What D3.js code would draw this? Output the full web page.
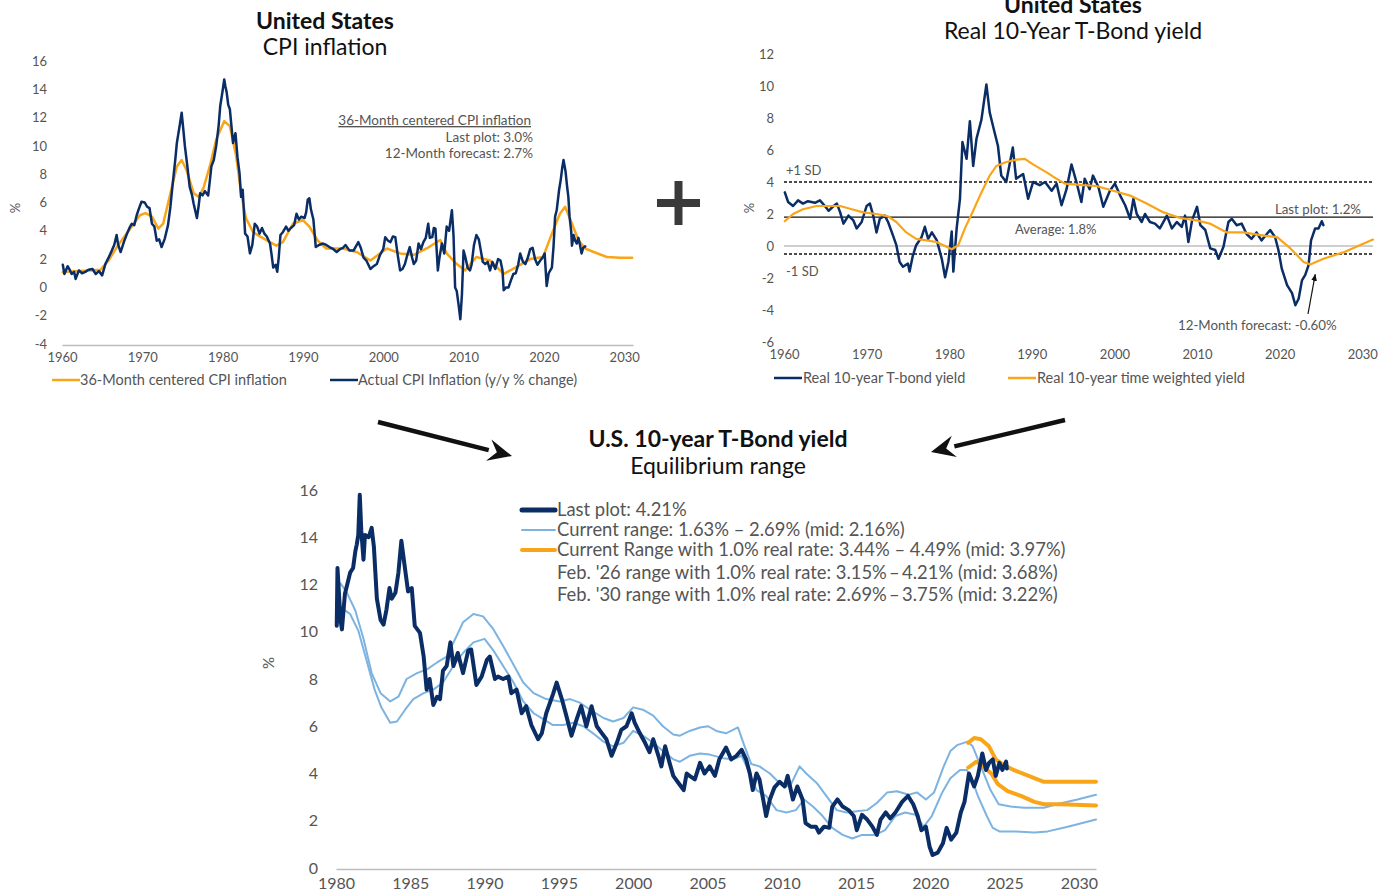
<!DOCTYPE html>
<html>
<head>
<meta charset="utf-8">
<script src="https://cdn.jsdelivr.net/npm/d3@7"></script>
<style>
  body { margin: 0; background: #fff; }
  svg { display: block; font-family: Lato, "Noto Sans", sans-serif; }
</style>
</head>
<body>
<script>
// ---- data (year, value) ----
var cpiActual = [[1960.1,1.6],[1960.3,0.95],[1960.7,1.5],[1961.0,1.2],[1961.2,0.95],[1961.5,1.1],[1961.7,0.6],[1962.1,1.2],[1962.5,1.0],[1962.9,1.1],[1963.3,1.25],[1963.8,1.3],[1964.2,0.95],[1964.6,1.15],[1965.0,0.85],[1965.4,1.65],[1965.8,2.1],[1966.2,2.6],[1966.5,3.0],[1966.8,3.7],[1967.0,3.0],[1967.3,2.5],[1967.7,3.2],[1968.1,3.8],[1968.4,4.2],[1968.7,4.5],[1969.0,4.4],[1969.3,5.1],[1969.6,5.6],[1969.9,6.05],[1970.3,6.0],[1970.6,5.7],[1970.9,5.6],[1971.2,4.5],[1971.5,4.3],[1971.8,3.3],[1972.1,3.4],[1972.4,2.85],[1972.8,3.45],[1973.2,4.4],[1973.5,5.7],[1973.8,7.4],[1974.1,9.0],[1974.3,10.2],[1974.5,10.9],[1974.7,11.6],[1974.9,12.35],[1975.1,11.2],[1975.3,10.0],[1975.6,8.6],[1975.9,7.1],[1976.2,6.5],[1976.4,5.9],[1976.6,5.4],[1976.8,4.9],[1977.0,5.7],[1977.2,6.65],[1977.5,6.5],[1977.8,6.8],[1978.2,6.5],[1978.4,7.5],[1978.6,8.55],[1978.9,9.0],[1979.2,10.0],[1979.5,11.4],[1979.7,12.8],[1980.0,13.9],[1980.2,14.7],[1980.35,14.2],[1980.5,13.8],[1980.7,12.9],[1980.9,12.6],[1981.1,11.4],[1981.3,10.2],[1981.6,10.9],[1981.85,9.2],[1982.1,8.1],[1982.3,6.4],[1982.5,6.9],[1982.8,3.8],[1983.1,3.6],[1983.4,2.4],[1983.7,3.0],[1984.0,4.5],[1984.3,4.3],[1984.6,3.8],[1984.9,4.2],[1985.2,3.8],[1985.5,3.6],[1985.9,3.1],[1986.1,2.3],[1986.3,1.4],[1986.6,1.6],[1986.8,1.1],[1987.0,2.2],[1987.2,3.7],[1987.5,3.9],[1987.9,4.3],[1988.2,4.0],[1988.5,4.2],[1988.9,4.4],[1989.2,5.2],[1989.5,4.8],[1989.8,5.0],[1990.2,4.9],[1990.4,5.3],[1990.6,6.2],[1990.8,6.3],[1991.0,5.5],[1991.3,4.8],[1991.6,2.85],[1992.0,3.0],[1992.5,3.1],[1992.9,3.0],[1993.3,2.85],[1993.8,2.7],[1994.2,2.5],[1994.6,2.7],[1995.0,2.8],[1995.3,3.0],[1995.8,2.6],[1996.3,2.6],[1996.6,2.9],[1996.9,3.2],[1997.2,2.8],[1997.55,2.1],[1997.9,1.9],[1998.4,1.3],[1998.8,1.5],[1999.2,1.65],[1999.6,2.3],[2000.0,2.7],[2000.25,3.55],[2000.6,3.3],[2000.9,3.2],[2001.2,3.6],[2001.5,3.55],[2001.8,2.3],[2002.1,1.2],[2002.4,1.3],[2002.7,1.65],[2003.0,2.3],[2003.3,2.85],[2003.6,2.1],[2003.8,1.65],[2004.1,1.9],[2004.4,3.1],[2004.7,2.7],[2005.0,3.2],[2005.3,3.5],[2005.6,4.5],[2005.8,3.5],[2006.1,3.55],[2006.3,4.2],[2006.5,4.15],[2006.8,1.2],[2007.0,2.1],[2007.3,3.1],[2007.6,2.4],[2007.9,4.3],[2008.2,4.0],[2008.55,5.45],[2008.75,3.7],[2008.95,0.0],[2009.15,-0.25],[2009.4,-1.3],[2009.6,-2.25],[2009.8,-0.5],[2010.0,2.6],[2010.2,2.2],[2010.5,1.4],[2010.8,1.2],[2011.0,1.6],[2011.3,3.0],[2011.6,3.7],[2011.9,3.4],[2012.15,2.6],[2012.4,1.8],[2012.7,1.65],[2013.0,1.8],[2013.3,1.2],[2013.6,1.8],[2013.95,1.3],[2014.3,2.0],[2014.6,1.9],[2014.85,1.2],[2015.0,-0.2],[2015.3,0.0],[2015.6,0.0],[2015.9,0.5],[2016.2,0.95],[2016.5,1.0],[2016.8,1.6],[2017.05,2.4],[2017.4,1.8],[2017.7,1.65],[2018.0,2.1],[2018.3,2.7],[2018.6,2.8],[2018.9,2.0],[2019.2,1.6],[2019.55,1.9],[2019.9,2.15],[2020.1,2.4],[2020.35,0.1],[2020.6,1.0],[2020.8,1.2],[2021.0,1.4],[2021.2,2.85],[2021.4,5.0],[2021.6,5.45],[2021.9,6.9],[2022.1,7.6],[2022.3,8.5],[2022.45,9.0],[2022.7,8.2],[2022.9,7.1],[2023.05,6.4],[2023.2,5.0],[2023.4,4.0],[2023.5,2.95],[2023.7,3.7],[2023.9,3.3],[2024.1,3.1],[2024.3,3.5],[2024.5,3.0],[2024.7,2.4],[2024.9,2.8],[2025.15,2.9]];
var cpiCentered = [[1960.1,1.07],[1961.5,1.15],[1963.5,1.2],[1964.8,1.25],[1965.8,1.9],[1967.0,3.0],[1968.3,4.0],[1969.7,5.1],[1970.4,5.25],[1971.2,5.0],[1972.0,4.15],[1972.6,4.5],[1973.5,6.65],[1974.3,8.55],[1974.9,9.0],[1975.5,8.3],[1976.4,6.65],[1977.0,6.4],[1977.6,7.0],[1978.4,8.55],[1979.2,10.45],[1980.2,11.75],[1980.9,11.4],[1981.7,9.25],[1982.3,6.65],[1982.9,4.9],[1983.8,3.9],[1984.8,3.55],[1985.9,3.2],[1986.7,2.95],[1987.5,3.2],[1988.75,4.5],[1990.0,4.75],[1990.8,4.3],[1991.85,3.3],[1992.9,2.75],[1995.0,2.75],[1996.7,2.5],[1998.4,1.9],[2000.45,2.75],[2002.1,2.4],[2003.8,2.3],[2005.4,2.75],[2007.1,3.35],[2007.9,2.4],[2009.15,1.65],[2010.2,1.2],[2011.6,2.15],[2013.3,1.9],[2015.0,0.95],[2016.6,1.45],[2018.3,2.0],[2019.9,2.15],[2021.0,3.8],[2022.0,5.2],[2022.65,5.7],[2023.5,4.5],[2024.3,3.35],[2025.15,2.75],[2026.2,2.5],[2027.85,2.15],[2029.5,2.1],[2031.0,2.1]];
var cpiXTicks = [1960, 1970, 1980, 1990, 2000, 2010, 2020, 2030];
var cpiYTicks = [-4, -2, 0, 2, 4, 6, 8, 10, 12, 14, 16];

var realYield = [[1960.1,3.35],[1960.5,2.75],[1961.1,2.5],[1961.7,2.85],[1962.3,2.65],[1962.9,2.8],[1963.75,2.7],[1964.35,2.85],[1964.95,2.5],[1965.4,2.2],[1966.0,2.5],[1966.4,2.65],[1966.8,2.1],[1967.2,1.4],[1967.8,1.9],[1968.4,1.6],[1968.8,1.1],[1969.4,1.5],[1970.0,2.5],[1970.4,2.65],[1970.8,1.9],[1971.2,0.85],[1971.6,1.7],[1972.2,1.9],[1972.6,1.5],[1973.2,0.65],[1973.6,0.05],[1974.0,-1.0],[1974.4,-1.3],[1975.0,-1.1],[1975.2,-1.6],[1975.6,-0.6],[1976.0,0.05],[1976.65,0.55],[1977.05,1.2],[1977.45,0.45],[1977.9,0.85],[1978.5,0.35],[1979.1,-0.8],[1979.5,-1.95],[1979.9,-1.0],[1980.3,0.9],[1980.5,-1.6],[1980.9,1.1],[1981.3,2.95],[1981.6,6.5],[1982.1,5.45],[1982.5,7.8],[1982.9,5.0],[1983.3,6.7],[1983.9,7.9],[1984.5,10.1],[1984.9,8.35],[1985.3,7.5],[1985.9,6.25],[1986.3,4.4],[1986.9,4.0],[1987.7,6.15],[1988.1,4.2],[1988.95,4.5],[1989.55,2.95],[1990.15,4.0],[1990.95,3.8],[1991.6,4.0],[1992.4,3.45],[1993.0,3.9],[1993.6,2.55],[1994.2,3.55],[1994.8,5.1],[1995.4,4.0],[1996.0,2.75],[1996.4,4.2],[1997.0,3.55],[1997.4,4.4],[1998.05,3.7],[1998.65,2.45],[1999.45,3.45],[2000.05,3.9],[2000.7,3.15],[2001.3,2.55],[2001.9,1.7],[2002.3,2.95],[2002.7,2.0],[2003.3,1.5],[2003.7,2.0],[2004.3,1.5],[2004.9,1.4],[2005.5,1.1],[2006.35,1.9],[2006.95,1.1],[2007.55,1.5],[2008.15,1.2],[2008.55,1.9],[2008.95,0.25],[2009.4,1.6],[2010.0,2.45],[2010.4,1.3],[2011.0,1.0],[2011.6,-0.15],[2012.2,-0.25],[2012.6,-0.8],[2013.2,-0.05],[2013.8,1.5],[2014.2,1.7],[2014.8,1.3],[2015.4,1.4],[2016.0,0.75],[2016.6,0.45],[2017.2,0.85],[2017.8,0.35],[2018.45,0.75],[2018.85,1.0],[2019.45,0.55],[2019.85,-0.25],[2020.25,-1.4],[2020.9,-2.45],[2021.5,-2.95],[2021.9,-3.7],[2022.3,-3.3],[2022.7,-2.15],[2023.1,-1.8],[2023.5,-1.2],[2023.8,0.35],[2024.3,1.1],[2024.7,1.1],[2025.1,1.55],[2025.3,1.3]];
var realWeighted = [[1960.1,1.55],[1961.1,2.0],[1962.3,2.3],[1963.95,2.5],[1966.8,2.5],[1968.2,2.3],[1969.6,2.1],[1971.2,2.0],[1972.6,1.85],[1973.6,1.5],[1974.8,0.85],[1976.0,0.45],[1977.25,0.35],[1978.45,0.25],[1979.5,0.0],[1980.3,-0.2],[1981.1,0.05],[1981.9,1.1],[1982.9,2.2],[1983.9,3.35],[1984.9,4.4],[1985.7,5.0],[1986.9,5.25],[1988.15,5.4],[1989.15,5.45],[1990.15,5.1],[1991.8,4.6],[1993.0,4.2],[1994.0,3.9],[1996.2,3.8],[1997.8,3.75],[1999.85,3.45],[2001.9,3.15],[2003.9,2.65],[2005.95,2.1],[2007.95,1.75],[2009.95,1.6],[2011.55,1.4],[2013.6,0.85],[2015.6,0.85],[2018.1,0.65],[2019.7,0.55],[2021.3,-0.15],[2022.9,-1.0],[2023.7,-1.15],[2025.3,-0.8],[2027.7,-0.4],[2031.3,0.4]];
var realXTicks = [1960, 1970, 1980, 1990, 2000, 2010, 2020, 2030];
var realYTicks = [-6, -4, -2, 0, 2, 4, 6, 8, 10, 12];
var realAverage = 1.8, realPlusSD = 4.0, realMinusSD = -0.5, realForecast = [2023.7, -1.15];

var tbondYield = [[1980.05,10.25],[1980.1,12.7],[1980.3,10.5],[1980.4,10.1],[1980.6,11.6],[1980.95,12.5],[1981.15,12.7],[1981.3,13.4],[1981.4,13.7],[1981.5,14.1],[1981.6,15.8],[1981.7,14.3],[1981.85,13.05],[1981.95,14.1],[1982.2,14.0],[1982.4,14.4],[1982.55,13.6],[1982.75,11.4],[1983.0,10.5],[1983.2,10.3],[1983.4,10.95],[1983.6,11.85],[1983.75,11.4],[1984.0,11.65],[1984.2,12.5],[1984.4,13.85],[1984.65,12.65],[1984.85,11.7],[1985.1,11.85],[1985.3,10.25],[1985.65,9.95],[1985.9,8.95],[1986.1,7.55],[1986.3,8.0],[1986.55,6.9],[1986.8,7.25],[1987.0,7.15],[1987.2,8.35],[1987.45,8.55],[1987.7,9.55],[1987.9,8.55],[1988.2,9.1],[1988.55,8.25],[1988.9,9.2],[1989.1,9.25],[1989.45,7.75],[1989.8,8.1],[1990.15,8.8],[1990.35,8.95],[1990.7,8.0],[1990.9,8.1],[1991.25,8.0],[1991.6,8.1],[1991.8,7.4],[1992.15,7.55],[1992.5,6.55],[1992.8,6.85],[1993.15,6.05],[1993.6,5.45],[1993.85,5.7],[1994.15,6.55],[1994.6,7.35],[1994.85,7.85],[1995.2,7.15],[1995.5,6.45],[1995.85,5.6],[1996.2,6.3],[1996.5,6.85],[1996.85,6.0],[1997.2,6.85],[1997.55,6.0],[1997.9,5.7],[1998.2,5.45],[1998.55,4.75],[1998.9,5.3],[1999.2,5.85],[1999.55,6.0],[1999.9,6.55],[2000.1,6.15],[2000.45,5.7],[2000.8,5.3],[2001.1,4.9],[2001.35,5.45],[2001.7,4.75],[2001.9,4.3],[2002.15,5.15],[2002.45,4.45],[2002.7,3.9],[2003.05,3.6],[2003.4,3.3],[2003.6,4.0],[2003.8,3.9],[2004.15,3.75],[2004.5,4.45],[2004.8,4.0],[2005.15,4.3],[2005.5,3.9],[2005.8,4.6],[2006.25,5.1],[2006.6,4.6],[2006.95,4.75],[2007.3,5.0],[2007.6,4.6],[2007.85,4.0],[2008.05,3.3],[2008.3,4.0],[2008.5,3.75],[2008.75,2.9],[2008.95,2.2],[2009.2,2.9],[2009.5,3.4],[2009.85,3.65],[2010.2,3.45],[2010.4,3.9],[2010.75,2.9],[2011.05,3.45],[2011.4,2.9],[2011.6,1.9],[2011.95,1.75],[2012.3,1.75],[2012.5,1.5],[2012.85,1.75],[2013.2,1.7],[2013.4,2.6],[2013.75,2.9],[2014.1,2.6],[2014.5,2.45],[2014.85,2.2],[2015.05,1.6],[2015.4,2.25],[2015.75,2.05],[2016.1,1.75],[2016.4,1.4],[2016.65,2.05],[2017.0,2.35],[2017.3,2.1],[2017.65,2.35],[2018.1,2.8],[2018.5,3.05],[2018.85,2.7],[2019.15,2.2],[2019.4,1.6],[2019.7,1.75],[2019.95,0.9],[2020.15,0.55],[2020.5,0.65],[2020.85,1.05],[2021.1,1.7],[2021.4,1.2],[2021.75,1.5],[2022.05,2.35],[2022.3,2.8],[2022.6,4.0],[2022.95,3.45],[2023.2,3.9],[2023.5,4.85],[2023.75,4.15],[2023.95,4.45],[2024.2,4.6],[2024.4,3.9],[2024.65,4.45],[2024.85,4.15],[2025.1,4.5],[2025.15,4.21]];
var rangeUpper = [[1980.05,11.8],[1980.3,12.05],[1980.7,11.7],[1981.3,10.9],[1981.85,9.7],[1982.4,8.25],[1983.0,7.4],[1983.65,7.05],[1984.2,7.25],[1984.75,8.0],[1985.45,8.25],[1986.1,8.4],[1986.8,8.7],[1987.45,8.95],[1988.1,9.8],[1988.55,10.4],[1989.25,10.75],[1989.9,10.65],[1990.6,10.1],[1991.25,9.4],[1991.95,8.6],[1992.6,7.85],[1993.3,7.4],[1994.15,7.15],[1995.05,7.05],[1995.75,7.15],[1996.4,7.0],[1997.1,6.7],[1998.0,6.35],[1998.65,6.2],[1999.35,6.35],[2000.0,6.8],[2000.65,6.7],[2001.35,6.45],[2002.0,6.0],[2002.7,5.65],[2003.15,5.6],[2003.8,5.8],[2004.5,5.95],[2005.05,6.0],[2005.6,5.8],[2006.25,5.7],[2007.05,5.95],[2007.5,5.15],[2007.95,4.4],[2008.5,4.3],[2009.2,4.0],[2009.85,3.6],[2010.55,3.45],[2011.2,4.3],[2011.65,4.0],[2012.35,3.6],[2013.0,3.05],[2013.7,2.45],[2014.35,2.35],[2015.05,2.4],[2015.75,2.45],[2016.4,2.75],[2017.1,3.2],[2017.75,3.25],[2018.55,3.1],[2019.1,3.2],[2019.7,2.9],[2020.25,3.2],[2020.9,4.3],[2021.35,4.95],[2021.8,5.2],[2022.5,5.35],[2022.85,5.15],[2023.4,4.3],[2024.05,3.3],[2024.6,2.7],[2025.4,2.6],[2026.3,2.55],[2027.65,2.55],[2028.5,2.7],[2029.9,2.9],[2031.15,3.1]];
var rangeLower = [[1980.05,10.8],[1980.4,11.0],[1980.95,10.75],[1981.5,10.05],[1982.05,8.8],[1982.6,7.55],[1983.05,6.8],[1983.65,6.15],[1984.1,6.2],[1984.65,6.7],[1985.2,7.15],[1985.9,7.4],[1986.55,7.55],[1987.2,7.85],[1987.9,8.55],[1988.55,9.1],[1989.25,9.55],[1990.0,9.7],[1990.6,9.2],[1991.25,8.55],[1991.95,7.85],[1992.6,7.05],[1993.3,6.55],[1993.95,6.3],[1994.6,6.05],[1995.3,6.05],[1995.95,6.15],[1996.65,6.0],[1997.3,5.7],[1998.0,5.35],[1998.65,5.15],[1999.35,5.3],[2000.0,5.8],[2000.65,5.6],[2001.35,5.3],[2002.0,4.95],[2002.7,4.6],[2003.15,4.5],[2003.8,4.75],[2004.5,4.85],[2005.15,4.8],[2006.05,4.65],[2006.7,4.6],[2007.3,4.75],[2007.85,4.0],[2008.3,3.3],[2008.95,3.05],[2009.65,2.45],[2010.3,2.35],[2010.95,2.45],[2011.5,2.9],[2012.1,2.6],[2012.75,2.2],[2013.4,1.7],[2014.1,1.4],[2014.75,1.25],[2015.4,1.4],[2016.3,1.4],[2016.95,1.6],[2017.65,2.2],[2018.3,2.35],[2019.0,2.25],[2019.55,1.75],[2020.1,2.2],[2020.8,3.2],[2021.35,3.8],[2022.0,4.15],[2022.45,4.15],[2022.8,3.75],[2023.2,3.05],[2023.8,2.2],[2024.2,1.7],[2024.65,1.55],[2025.65,1.55],[2027.0,1.5],[2027.9,1.55],[2029.25,1.75],[2031.15,2.05]];
var realRateUpper = [[2022.55,5.3],[2022.95,5.5],[2023.4,5.45],[2023.95,5.15],[2024.4,4.6],[2024.85,4.4],[2025.6,4.15],[2027.0,3.8],[2027.65,3.65],[2028.8,3.65],[2031.15,3.65]];
var realRateLower = [[2022.55,4.25],[2023.1,4.5],[2023.55,4.3],[2024.1,4.0],[2024.55,3.55],[2025.2,3.25],[2026.1,3.05],[2027.0,2.8],[2027.65,2.7],[2028.8,2.7],[2031.15,2.65]];
var tbondXTicks = [1980, 1985, 1990, 1995, 2000, 2005, 2010, 2015, 2020, 2025, 2030];
var tbondYTicks = [0, 2, 4, 6, 8, 10, 12, 14, 16];
var tbondLegend = [
  "Last plot: 4.21%",
  "Current range: 1.63% \u2013 2.69% (mid: 2.16%)",
  "Current Range with 1.0% real rate: 3.44% \u2013 4.49% (mid: 3.97%)",
  "Feb. '26 range with 1.0% real rate: 3.15%\u2009\u2013\u20094.21% (mid: 3.68%)",
  "Feb. '30 range with 1.0% real rate: 2.69%\u2009\u2013\u20093.75% (mid: 3.22%)"
];

var navy = "#0b2d66", orange = "#f9a51a", lightBlue = "#7db3e1", grey = "#555";

var svg = d3.select("body").append("svg").attr("width", 1380).attr("height", 892);

function drawLine(g, data, x, y, color, width) {
  var line = d3.line().x(function(d) { return x(d[0]); }).y(function(d) { return y(d[1]); });
  g.append("path").datum(data).attr("d", line)
    .attr("fill", "none").attr("stroke", color).attr("stroke-width", width)
    .attr("stroke-linejoin", "round").attr("stroke-linecap", "round");
}

// plain hyphen for negatives, as in the reference
function plain(d) { return String(d); }

function yAxis(x0, y, ticks, size) {
  var g = svg.append("g").attr("transform", "translate(" + x0 + ",0)")
    .call(d3.axisLeft(y).tickValues(ticks).tickFormat(plain).tickSize(0).tickPadding(0));
  g.select(".domain").remove();
  g.selectAll("text").attr("fill", grey).style("font-size", size + "px").style("font-family", "Lato");
}

function xAxis(y0, x, ticks, size, pad, showLine) {
  var g = svg.append("g").attr("transform", "translate(0," + y0 + ")")
    .call(d3.axisBottom(x).tickValues(ticks).tickFormat(plain).tickSize(0).tickPadding(pad));
  if (showLine) g.select(".domain").attr("stroke", "#bdbdbd").attr("stroke-width", 1.5);
  else g.select(".domain").remove();
  g.selectAll("text").attr("fill", grey).style("font-size", size + "px").style("font-family", "Lato");
}

function label(x, y, txt, opts) {
  opts = opts || {};
  return svg.append("text").attr("x", x).attr("y", y).text(txt)
    .attr("text-anchor", opts.anchor || "start")
    .attr("fill", opts.color || grey)
    .style("font-size", (opts.size || 13) + "px")
    .style("font-weight", opts.bold ? "bold" : "normal");
}

// ---------- chart 1: CPI inflation ----------
var x1 = d3.scaleLinear().domain([1960, 2031.1]).range([62, 633]);
var y1 = d3.scaleLinear().domain([-4, 16]).range([344, 61]);

label(325, 29, "United States", {anchor: "middle", size: 23, bold: true, color: "#111"});
label(325, 55, "CPI inflation", {anchor: "middle", size: 23, color: "#111"});
yAxis(47, y1, cpiYTicks, 13);
xAxis(345, x1, cpiXTicks, 13, 8, true);
label(20, 208, "%", {anchor: "middle", size: 13}).attr("transform", "rotate(-90,20,208)");

var g1 = svg.append("g");
drawLine(g1, cpiCentered, x1, y1, orange, 2.5);
drawLine(g1, cpiActual, x1, y1, navy, 2.5);

label(531, 125, "36-Month centered CPI inflation", {anchor: "end", size: 13.5}).style("text-decoration", "underline");
label(533, 142, "Last plot: 3.0%", {anchor: "end", size: 13.5});
label(533, 158, "12-Month forecast: 2.7%", {anchor: "end", size: 13.5});

svg.append("line").attr("x1", 52).attr("x2", 80).attr("y1", 380).attr("y2", 380).attr("stroke", orange).attr("stroke-width", 2.5);
label(80, 385, "36-Month centered CPI inflation", {size: 14.5});
svg.append("line").attr("x1", 330).attr("x2", 358).attr("y1", 380).attr("y2", 380).attr("stroke", navy).attr("stroke-width", 2.5);
label(358, 385, "Actual CPI Inflation (y/y % change)", {size: 14.5});

// ---------- big plus ----------
svg.append("path").attr("d", "M657,203H700M678.5,181V225").attr("stroke", "#3a3a3a").attr("stroke-width", 8).attr("fill", "none");

// ---------- chart 2: real 10-year yield ----------
var x2 = d3.scaleLinear().domain([1960, 2031.3]).range([784, 1373]);
var y2 = d3.scaleLinear().domain([-6, 12]).range([342, 54]);

label(1073, 13, "United States", {anchor: "middle", size: 23, bold: true, color: "#111"});
label(1073, 39, "Real 10-Year T-Bond yield", {anchor: "middle", size: 23, color: "#111"});
yAxis(774, y2, realYTicks, 13);
xAxis(342, x2, realXTicks, 13, 8, false);
label(754, 208, "%", {anchor: "middle", size: 13}).attr("transform", "rotate(-90,754,208)");

var g2 = svg.append("g");
g2.append("line").attr("x1", x2(1960)).attr("x2", x2(2031.3)).attr("y1", y2(0)).attr("y2", y2(0)).attr("stroke", "#cfcfcf").attr("stroke-width", 2);
[realPlusSD, realMinusSD].forEach(function(v) {
  g2.append("line").attr("x1", x2(1960)).attr("x2", x2(2031.3)).attr("y1", y2(v)).attr("y2", y2(v))
    .attr("stroke", "#111").attr("stroke-width", 1.3).attr("stroke-dasharray", "3,2");
});
g2.append("line").attr("x1", x2(1960)).attr("x2", x2(2031.3)).attr("y1", y2(realAverage)).attr("y2", y2(realAverage)).attr("stroke", "#111").attr("stroke-width", 1.3);
drawLine(g2, realYield, x2, y2, navy, 2.5);
drawLine(g2, realWeighted, x2, y2, orange, 2.2);

label(786, 175, "+1 SD", {size: 13});
label(786, 276, "-1 SD", {size: 13});
label(1015, 234, "Average: 1.8%", {size: 13});
label(1361, 214, "Last plot: 1.2%", {anchor: "end", size: 13.3});
label(1178, 330, "12-Month forecast: -0.60%", {size: 13.3});

svg.append("defs").append("marker").attr("id", "thin").attr("viewBox", "0 0 10 10")
  .attr("refX", 9).attr("refY", 5).attr("markerWidth", 6).attr("markerHeight", 6).attr("orient", "auto")
  .append("path").attr("d", "M0,1L10,5L0,9Z").attr("fill", "#111");
svg.append("line").attr("x1", 1308).attr("y1", 314)
  .attr("x2", x2(realForecast[0]) + 5).attr("y2", y2(realForecast[1]) + 10)
  .attr("stroke", "#111").attr("stroke-width", 1.2).attr("marker-end", "url(#thin)");

svg.append("line").attr("x1", 774).attr("x2", 802).attr("y1", 378).attr("y2", 378).attr("stroke", navy).attr("stroke-width", 2.5);
label(803, 383, "Real 10-year T-bond yield", {size: 14.5});
svg.append("line").attr("x1", 1008).attr("x2", 1036).attr("y1", 378).attr("y2", 378).attr("stroke", orange).attr("stroke-width", 2.5);
label(1037, 383, "Real 10-year time weighted yield", {size: 14.5});

// ---------- big arrows ----------
function bigArrow(xa, ya, xb, yb) {
  var ang = Math.atan2(yb - ya, xb - xa), len = 24, half = 11;
  var bx = xb - len * Math.cos(ang), by = yb - len * Math.sin(ang);
  svg.append("line").attr("x1", xa).attr("y1", ya).attr("x2", bx).attr("y2", by)
    .attr("stroke", "#111").attr("stroke-width", 4.5);
  var px = -Math.sin(ang) * half, py = Math.cos(ang) * half;
  svg.append("path").attr("d", "M" + xb + "," + yb + "L" + (bx + px) + "," + (by + py) + "L" + (bx + 0.35 * len * Math.cos(ang)) + "," + (by + 0.35 * len * Math.sin(ang)) + "L" + (bx - px) + "," + (by - py) + "Z")
    .attr("fill", "#111");
}
bigArrow(378, 422, 512, 456);
bigArrow(1065, 420, 931, 452);

// ---------- chart 3: nominal 10-year yield ----------
var x3 = d3.scaleLinear().domain([1980, 2031.15]).range([336, 1096]);
var y3 = d3.scaleLinear().domain([0, 16]).range([868, 490]);

label(718, 447, "U.S. 10-year T-Bond yield", {anchor: "middle", size: 23, bold: true, color: "#111"});
label(718, 474, "Equilibrium range", {anchor: "middle", size: 23, color: "#111"});
yAxis(318, y3, tbondYTicks, 16);
xAxis(869, x3, tbondXTicks, 16, 9, true);
label(274, 663, "%", {anchor: "middle", size: 15}).attr("transform", "rotate(-90,274,663)");

var g3 = svg.append("g");
drawLine(g3, rangeUpper, x3, y3, lightBlue, 2);
drawLine(g3, rangeLower, x3, y3, lightBlue, 2);
drawLine(g3, realRateUpper, x3, y3, orange, 4);
drawLine(g3, realRateLower, x3, y3, orange, 4);
drawLine(g3, tbondYield, x3, y3, navy, 4);

var legendStyles = [
  {color: navy, width: 5}, {color: lightBlue, width: 2}, {color: orange, width: 4}, null, null
];
var legendY = [510, 530, 550, 573, 595];
tbondLegend.forEach(function(txt, i) {
  var st = legendStyles[i];
  if (st) {
    svg.append("line").attr("x1", 522).attr("x2", 555).attr("y1", legendY[i]).attr("y2", legendY[i])
      .attr("stroke", st.color).attr("stroke-width", st.width).attr("stroke-linecap", "round");
  }
  label(557, legendY[i] + 6, txt, {size: 18.4});
});
</script>
</body>
</html>
